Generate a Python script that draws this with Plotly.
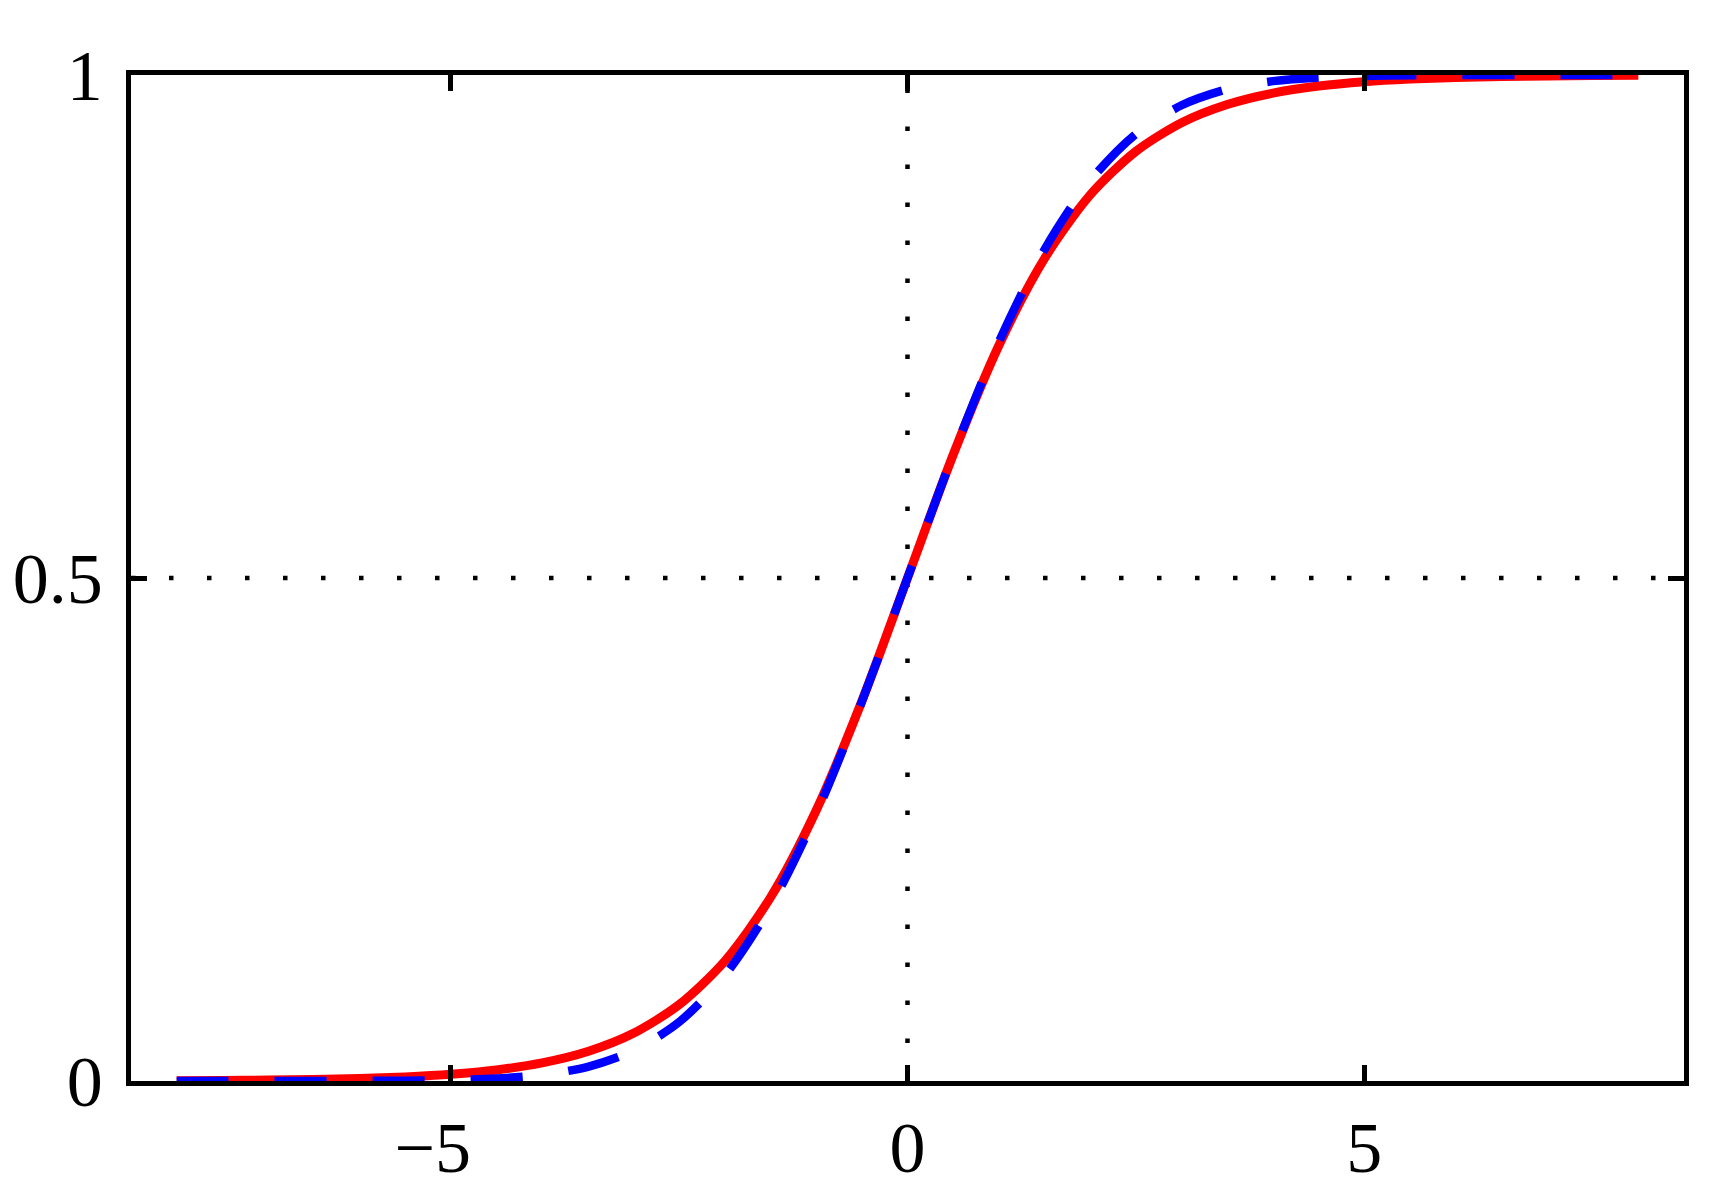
import plotly.graph_objects as go

x_vals = [-8.0, -7.5, -7.0, -6.5, -6.0, -5.5, -5.0, -4.5, -4.0, -3.5, -3.0, -2.5, -2.0, -1.5, -1.0, -0.5,
          0.0, 0.5, 1.0, 1.5, 2.0, 2.5, 3.0, 3.5, 4.0, 4.5, 5.0, 5.5, 6.0, 6.5, 7.0, 7.5, 8.0]

logistic_pos = [0.5, 0.6225, 0.7311, 0.8176, 0.8808, 0.9241, 0.9526, 0.9707, 0.9820,
                0.9890, 0.9933, 0.9959, 0.9975, 0.9985, 0.9991, 0.9994, 0.9997]
probit_pos = [0.5, 0.6229, 0.7346, 0.8264, 0.8950, 0.9414, 0.9699, 0.9859, 0.9939,
              0.9976, 0.9991, 0.9997, 0.9999, 1.0, 1.0, 1.0, 1.0]

red_y = [round(1 - v, 4) for v in logistic_pos[:0:-1]] + logistic_pos
blue_y = [round(1 - v, 4) for v in probit_pos[:0:-1]] + probit_pos

x_ticks = [-5, 0, 5]
x_tick_text = ["\u22125\u2007", "0", "5"]
y_ticks = [0, 0.5, 1]
y_tick_text = ["0", "0.5", "1"]

x_range = [-8.5, 8.5]
y_range = [0, 1]

fig = go.Figure()

# dotted reference lines
fig.add_trace(go.Scatter(x=[0, 0], y=y_range, mode="lines",
                         line=dict(color="black", width=4.5, dash="4.5px,33.5px"),
                         hoverinfo="skip", showlegend=False))
fig.add_trace(go.Scatter(x=x_range, y=[0.5, 0.5], mode="lines",
                         line=dict(color="black", width=4.5, dash="4.5px,33.5px"),
                         hoverinfo="skip", showlegend=False))

fig.add_trace(go.Scatter(x=x_vals, y=red_y, mode="lines",
                         line=dict(color="#ff0000", width=9, shape="spline", smoothing=0.8),
                         showlegend=False))
fig.add_trace(go.Scatter(x=x_vals, y=blue_y, mode="lines",
                         line=dict(color="#0000ff", width=8.5, dash="52px,46px", shape="spline", smoothing=0.8),
                         showlegend=False))

axis_common = dict(showgrid=False, zeroline=False, showline=True, linecolor="black", linewidth=4.5,
                   mirror="ticks", ticks="inside", ticklen=16, tickwidth=4.5, tickcolor="black",
                   automargin=False,
                   tickfont=dict(family="Liberation Serif, Times New Roman, serif", size=72, color="black"))

fig.update_xaxes(range=x_range, tickvals=x_ticks, ticktext=x_tick_text, ticklabelstandoff=0, **axis_common)
fig.update_yaxes(range=y_range, tickvals=y_ticks, ticktext=y_tick_text, ticklabelstandoff=9, **axis_common)

fig.update_layout(width=1717, height=1200, plot_bgcolor="white", paper_bgcolor="white",
                  margin=dict(l=123, r=41, t=67, b=127), showlegend=False)

fig.write_html("out.html")
